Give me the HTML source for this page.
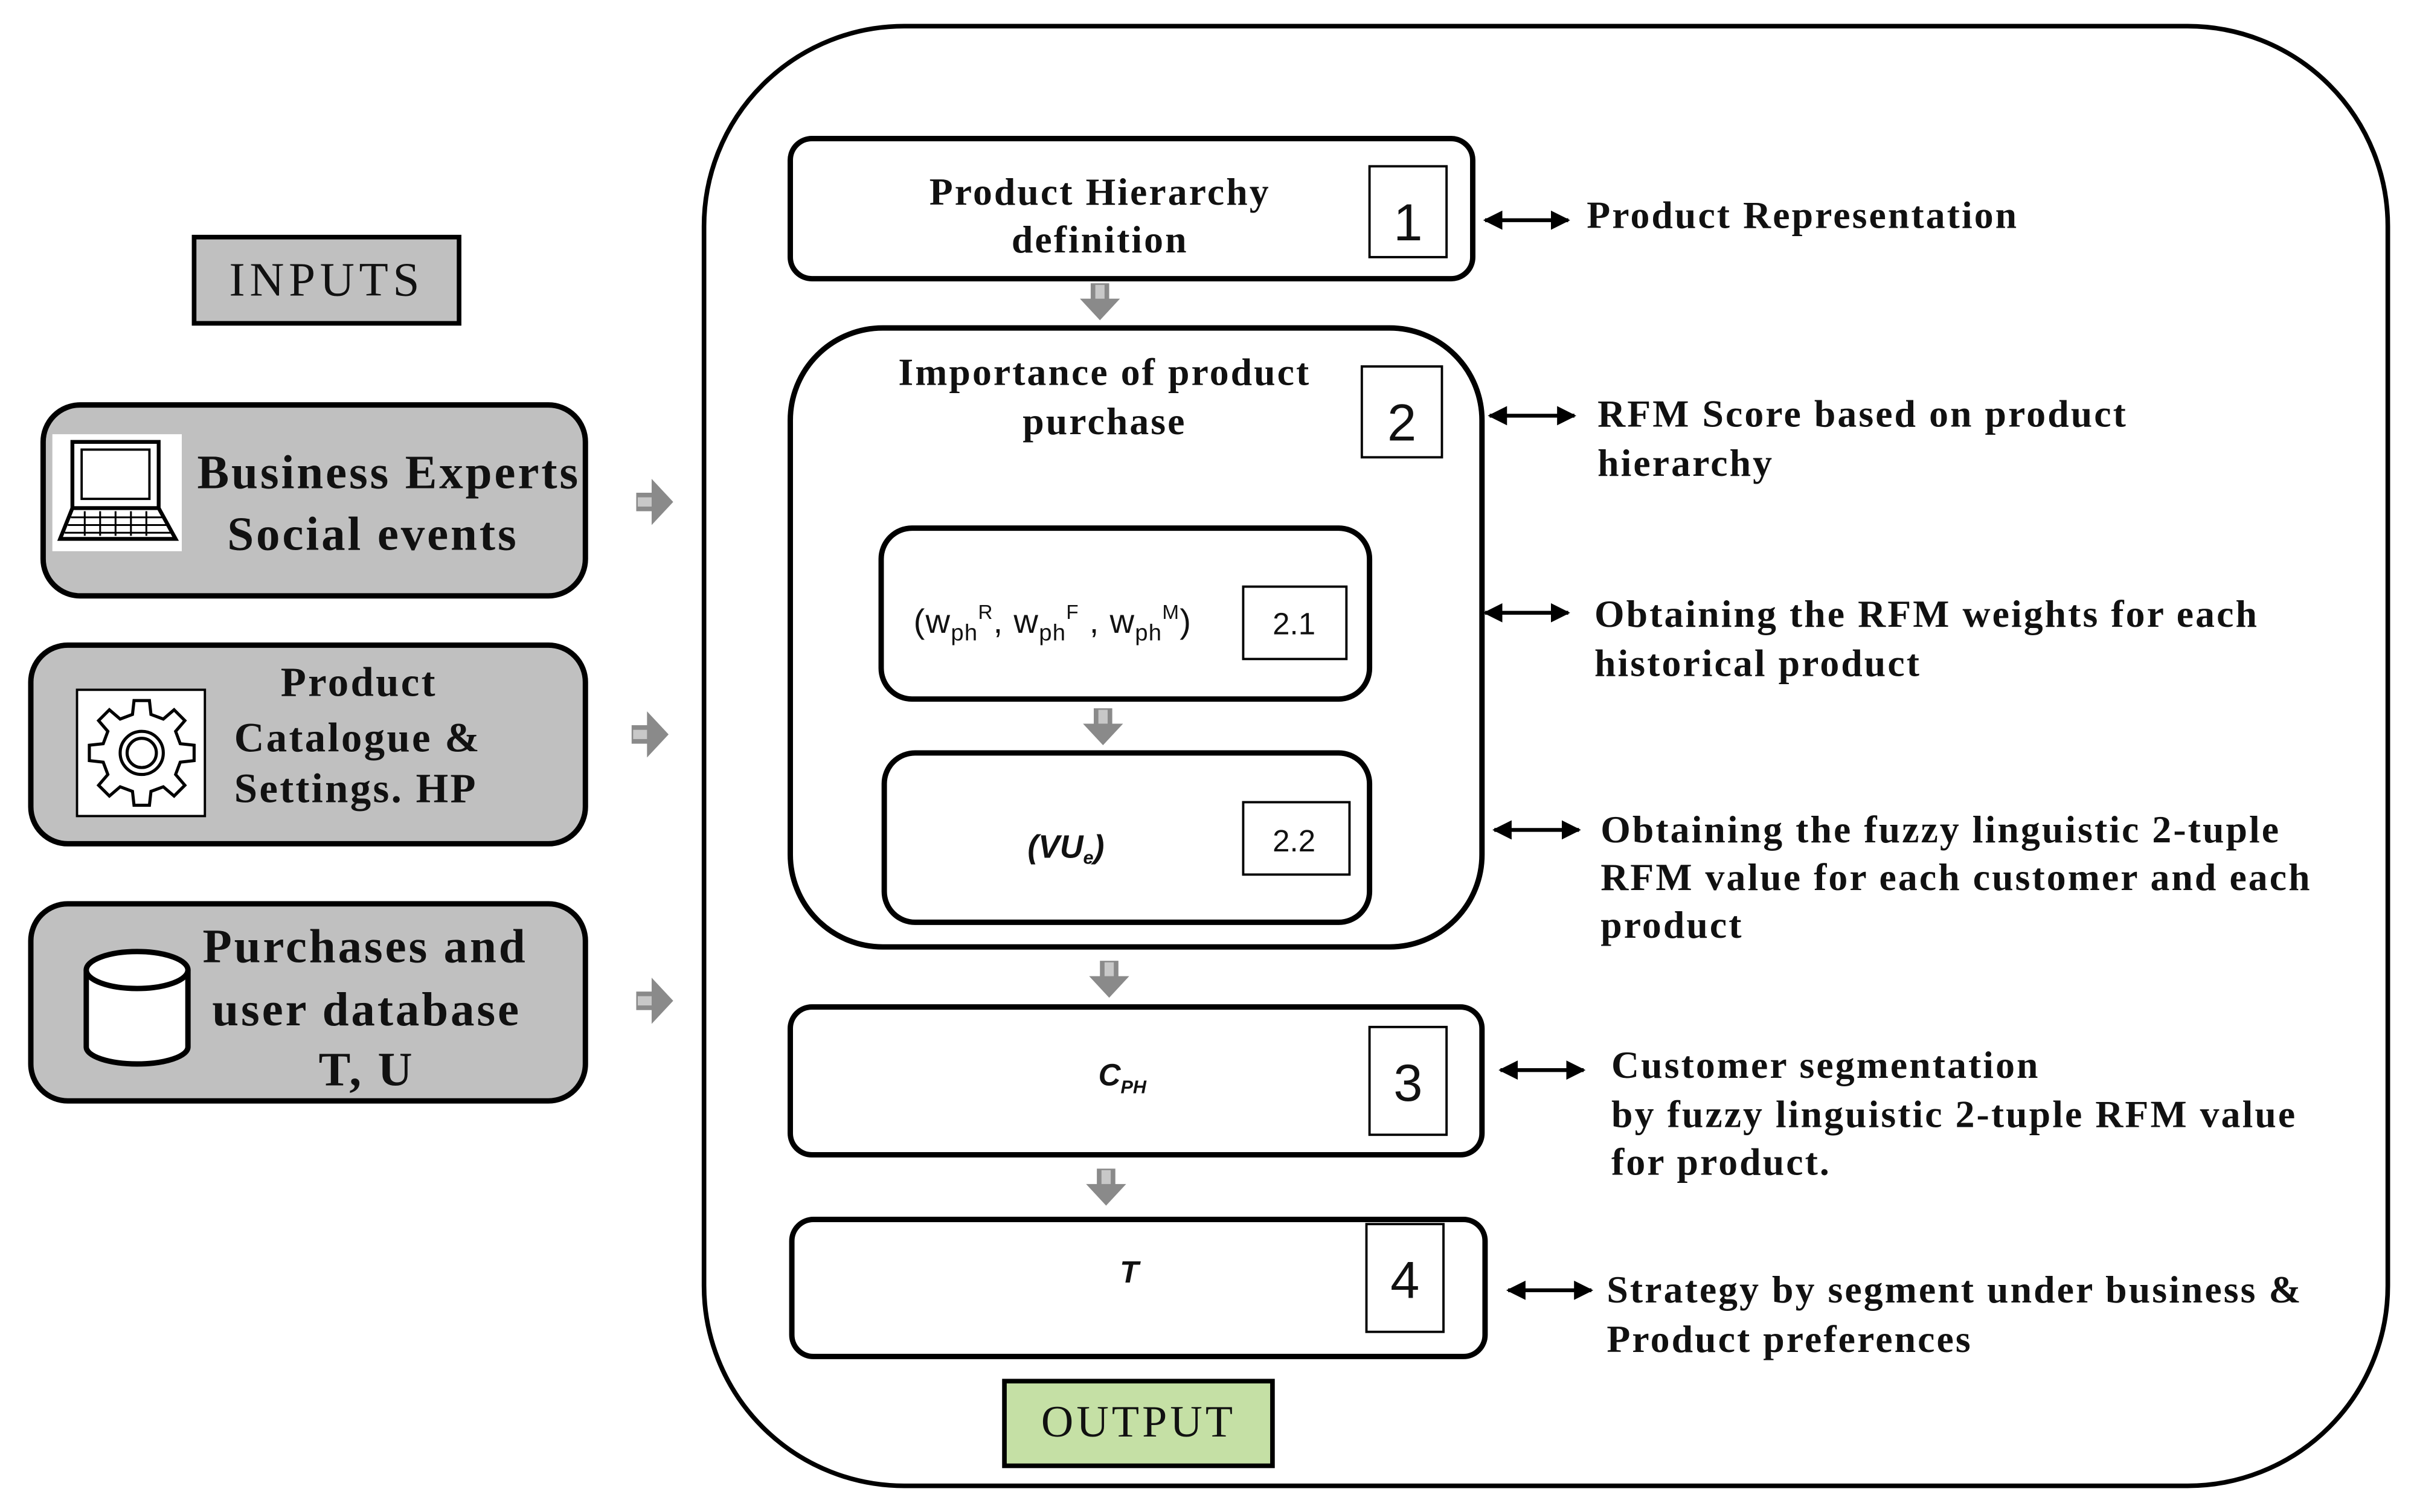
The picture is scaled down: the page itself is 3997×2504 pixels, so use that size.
<!DOCTYPE html>
<html><head><meta charset="utf-8"><style>
html,body{margin:0;padding:0;background:#fff;}
svg{display:block;}
.s{font-family:"Liberation Serif",serif;font-weight:bold;fill:#111;}
.n{font-family:"Liberation Sans",sans-serif;fill:#111;}
</style></head><body>
<svg width="3997" height="2504" viewBox="0 0 1567 982" preserveAspectRatio="none" xmlns="http://www.w3.org/2000/svg">
<defs>
<marker id="ah" viewBox="0 0 10 10" refX="9" refY="5" markerWidth="5" markerHeight="5" orient="auto-start-reverse"><path d="M0,0 L10,5 L0,10 z" fill="#000"/></marker>
<g id="ga"><path d="M-6,-12 L6,-12 L6,-2 L13,-2 L0,12 L-13,-2 L-6,-2 z" fill="#8a8a8a"/><rect x="-3" y="-11" width="6" height="9" fill="#c8c8c8"/></g>
<g id="ra"><path d="M-12,-6 L-2,-6 L-2,-15 L12,0 L-2,15 L-2,6 L-12,6 z" fill="#8a8a8a"/><rect x="-11" y="-3" width="9" height="6" fill="#c8c8c8"/></g>
</defs>
<rect x="457" y="17" width="1093" height="948" rx="130" fill="none" stroke="#000" stroke-width="3"/>
<!-- Inputs -->
<rect x="126" y="154" width="172" height="56" fill="#c0c0c0" stroke="#000" stroke-width="3"/>
<text x="212" y="192" text-anchor="middle" class="s" style="font-weight:normal;font-size:31px;letter-spacing:3px">INPUTS</text>

<rect x="28" y="263" width="352" height="124" rx="24" fill="#c0c0c0" stroke="#000" stroke-width="3.5"/>
<rect x="34" y="282" width="84" height="76" fill="#fff"/>
<rect x="47" y="287" width="56" height="43" fill="none" stroke="#000" stroke-width="2.5"/>
<rect x="53" y="292" width="44" height="32" fill="none" stroke="#000" stroke-width="1.5"/>
<path d="M47,330 L39,350 L114,350 L103,330" fill="none" stroke="#000" stroke-width="2.5"/>
<path d="M46,336 H106 M44,341 H108 M42,346 H111 M55,332 V348 M65,332 V348 M75,332 V348 M85,332 V348 M95,332 V348" stroke="#000" stroke-width="1.2"/>
<svg x="28" y="263" width="352" height="124" overflow="hidden">
<text x="100" y="54" class="s" style="font-size:31px;letter-spacing:1.5px">Business Experts</text>
</svg>
<text x="129" y="357" class="s" style="font-size:31px;letter-spacing:1.5px">&#160;&#160;Social events</text>

<rect x="20" y="419" width="360" height="129" rx="24" fill="#c0c0c0" stroke="#000" stroke-width="3.5"/>
<rect x="50" y="448" width="83" height="82" fill="#fff" stroke="#000" stroke-width="1.5"/>
<g transform="translate(92,489)" fill="none" stroke="#000" stroke-width="2">
<path d="M-5,-34 L5,-34 L6,-25 L14,-22 L21,-28 L28,-21 L22,-14 L25,-6 L34,-5 L34,5 L25,6 L22,14 L28,21 L21,28 L14,22 L6,25 L5,34 L-5,34 L-6,25 L-14,22 L-21,28 L-28,21 L-22,14 L-25,6 L-34,5 L-34,-5 L-25,-6 L-22,-14 L-28,-21 L-21,-28 L-14,-22 L-6,-25 z"/>
<circle r="14"/><circle r="9.5"/></g>
<text x="233" y="452" text-anchor="middle" class="s" style="font-size:27px;letter-spacing:1.3px">Product</text>
<text x="152" y="488" class="s" style="font-size:27px;letter-spacing:1.3px">Catalogue &amp;</text>
<text x="152" y="521" class="s" style="font-size:27px;letter-spacing:1.3px">Settings. HP</text>

<rect x="20" y="587" width="360" height="128" rx="24" fill="#c0c0c0" stroke="#000" stroke-width="3.5"/>
<path d="M56,630 V680 A33,11 0 0 0 122,680 V630" fill="#fff" stroke="#000" stroke-width="3.5"/>
<ellipse cx="89" cy="630" rx="33" ry="12" fill="#fff" stroke="#000" stroke-width="3.5"/>
<text x="237" y="625" text-anchor="middle" class="s" style="font-size:31px;letter-spacing:1.5px">Purchases and</text>
<text x="238" y="666" text-anchor="middle" class="s" style="font-size:31px;letter-spacing:1.5px">user database</text>
<text x="238" y="705" text-anchor="middle" class="s" style="font-size:31px;letter-spacing:1.5px">T, U</text>

<use href="#ra" x="425" y="326"/>
<use href="#ra" x="422" y="477"/>
<use href="#ra" x="425" y="650"/>

<!-- Box 1 -->
<rect x="513" y="90" width="443" height="91" rx="14" fill="#fff" stroke="#000" stroke-width="3.5"/>
<rect x="889" y="108" width="50" height="59" fill="#fff" stroke="#000" stroke-width="1.5"/>
<text x="914" y="156" text-anchor="middle" class="n" style="font-size:34px">1</text>
<text x="714" y="133" text-anchor="middle" class="s" style="font-size:25px;letter-spacing:1.2px">Product Hierarchy</text>
<text x="714" y="164" text-anchor="middle" class="s" style="font-size:25px;letter-spacing:1.2px">definition</text>
<use href="#ga" x="714" y="196"/>

<!-- Box 2 -->
<rect x="513" y="213" width="449" height="402" rx="60" fill="none" stroke="#000" stroke-width="3.5"/>
<rect x="884" y="238" width="52" height="59" fill="#fff" stroke="#000" stroke-width="1.5"/>
<text x="910" y="286" text-anchor="middle" class="n" style="font-size:34px">2</text>
<text x="717" y="250" text-anchor="middle" class="s" style="font-size:25px;letter-spacing:1.2px">Importance of product</text>
<text x="717" y="282" text-anchor="middle" class="s" style="font-size:25px;letter-spacing:1.2px">purchase</text>

<rect x="572" y="343" width="317" height="111" rx="20" fill="#fff" stroke="#000" stroke-width="3.5"/>
<rect x="807" y="381" width="67" height="47" fill="#fff" stroke="#000" stroke-width="1.5"/>
<text x="840" y="412" text-anchor="middle" class="n" style="font-size:20px">2.1</text>
<text x="593" y="411" class="n" style="font-size:22px;letter-spacing:0.5px">(w<tspan font-size="15" dy="5">ph</tspan><tspan font-size="13" dy="-14">R</tspan><tspan dy="9">, w</tspan><tspan font-size="15" dy="5">ph</tspan><tspan font-size="13" dy="-14">F</tspan><tspan dy="9"> , w</tspan><tspan font-size="15" dy="5">ph</tspan><tspan font-size="13" dy="-14">M</tspan><tspan dy="9">)</tspan></text>
<use href="#ga" x="716" y="472"/>

<rect x="574" y="489" width="315" height="110" rx="20" fill="#fff" stroke="#000" stroke-width="3.5"/>
<rect x="807" y="521" width="69" height="47" fill="#fff" stroke="#000" stroke-width="1.5"/>
<text x="840" y="553" text-anchor="middle" class="n" style="font-size:20px">2.2</text>
<text x="667" y="557" class="n" style="font-size:21px;font-style:italic;font-weight:bold">(VU<tspan font-size="12" dy="4">e</tspan><tspan dy="-4">)</tspan></text>

<use href="#ga" x="720" y="636"/>
<!-- Box 3 -->
<rect x="513" y="654" width="449" height="96" rx="14" fill="#fff" stroke="#000" stroke-width="3.5"/>
<rect x="889" y="667" width="50" height="70" fill="#fff" stroke="#000" stroke-width="1.5"/>
<text x="914" y="715" text-anchor="middle" class="n" style="font-size:34px">3</text>
<text x="713" y="705" class="n" style="font-size:20px;font-style:italic;font-weight:bold">C<tspan font-size="12" dy="5">PH</tspan></text>
<use href="#ga" x="718" y="771"/>
<!-- Box 4 -->
<rect x="514" y="792" width="450" height="89" rx="14" fill="#fff" stroke="#000" stroke-width="3.5"/>
<rect x="887" y="795" width="50" height="70" fill="#fff" stroke="#000" stroke-width="1.5"/>
<text x="912" y="843" text-anchor="middle" class="n" style="font-size:34px">4</text>
<text x="733" y="833" text-anchor="middle" class="n" style="font-size:20px;font-style:italic;font-weight:bold">T</text>

<rect x="652" y="897" width="174" height="55" fill="#c5e0a5" stroke="#000" stroke-width="3"/>
<text x="739" y="933" text-anchor="middle" class="s" style="font-weight:normal;font-size:29px;letter-spacing:2px">OUTPUT</text>

<!-- right arrows -->
<g stroke="#000" stroke-width="2.5" marker-start="url(#ah)" marker-end="url(#ah)">
<line x1="964" y1="143" x2="1018" y2="143"/>
<line x1="967" y1="270" x2="1022" y2="270"/>
<line x1="964" y1="398" x2="1018" y2="398"/>
<line x1="970" y1="539" x2="1025" y2="539"/>
<line x1="974" y1="695" x2="1028" y2="695"/>
<line x1="979" y1="838" x2="1033" y2="838"/>
</g>
<g class="s" style="font-size:25px;letter-spacing:1.2px">
<text x="1030" y="148">Product Representation</text>
<text x="1037" y="277">RFM Score based on product</text>
<text x="1037" y="309">hierarchy</text>
<text x="1035" y="407">Obtaining the RFM weights for each</text>
<text x="1035" y="439">historical product</text>
<text x="1039" y="547">Obtaining the fuzzy linguistic 2-tuple</text>
<text x="1039" y="578">RFM value for each customer and each</text>
<text x="1039" y="609">product</text>
<text x="1046" y="700">Customer segmentation</text>
<text x="1046" y="732">by fuzzy linguistic 2-tuple RFM value</text>
<text x="1046" y="763">for product.</text>
<text x="1043" y="846">Strategy by segment under business &amp;</text>
<text x="1043" y="878">Product preferences</text>
</g>
</svg>
</body></html>
